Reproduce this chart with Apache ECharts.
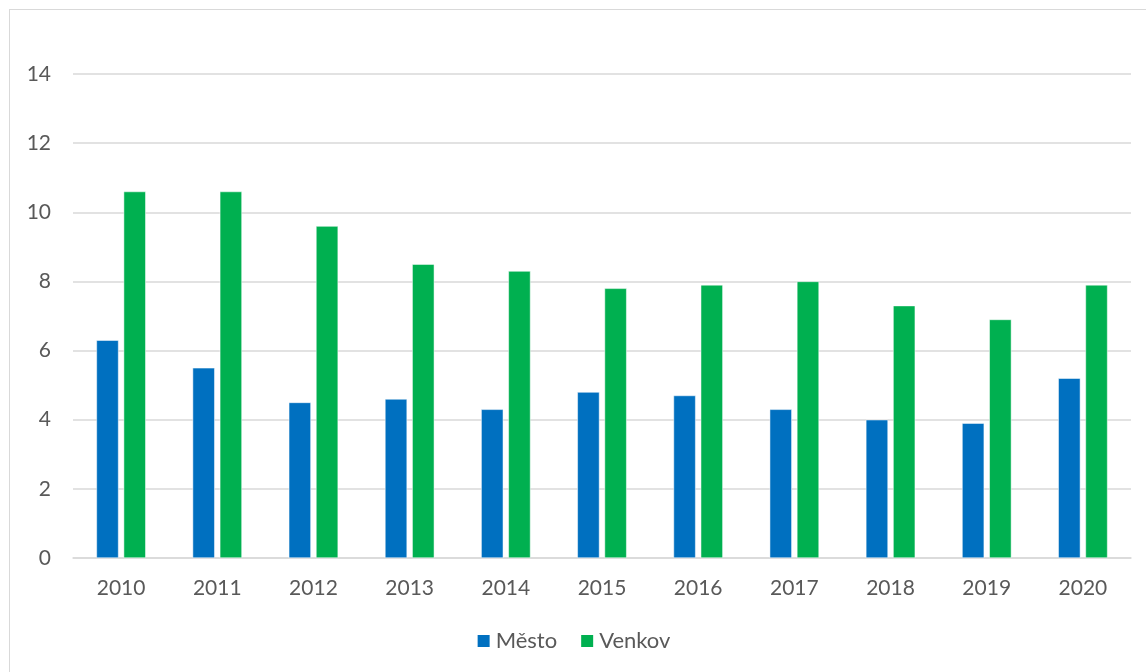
<!DOCTYPE html>
<html><head><meta charset="utf-8">
<script src="https://cdn.jsdelivr.net/npm/echarts@6/dist/echarts.min.js"></script>
<style>
html,body{margin:0;padding:0;background:#fff;overflow:hidden;}
#frame{position:absolute;left:9px;top:9px;width:1160px;height:700px;border:1.5px solid #d9d9d9;box-sizing:border-box;}
#c{position:absolute;left:0;top:0;width:1146px;height:672px;}
</style></head>
<body><div id="frame"></div><div id="c"></div>
<script>
const categories = ['2010','2011','2012','2013','2014','2015','2016','2017','2018','2019','2020'];
const mesto = [6.3,5.5,4.5,4.6,4.3,4.8,4.7,4.3,4.0,3.9,5.2];
const venkov = [10.6,10.6,9.6,8.5,8.3,7.8,7.9,8.0,7.3,6.9,7.9];
const yTicks = {min:0,max:14,interval:2};

const chart = echarts.init(document.getElementById('c'));
const font = 'Lato, "Open Sans", sans-serif';
chart.setOption({
  animation:false,
  textStyle:{fontFamily:font},
  grid:{left:73,right:15,top:74,bottom:114},
  legend:{
    bottom:15,left:'center',itemWidth:14,itemHeight:14,itemGap:22,
    icon:'rect',
    textStyle:{fontSize:22,color:'#595959',fontFamily:font},
    data:['Město','Venkov']
  },
  xAxis:{
    type:'category',data:categories,
    axisLine:{lineStyle:{color:'#d9d9d9',width:1.5}},
    axisTick:{show:false},
    axisLabel:{fontSize:21,color:'#595959',margin:20,fontFamily:font}
  },
  yAxis:{
    type:'value',min:yTicks.min,max:yTicks.max,interval:yTicks.interval,
    axisLine:{show:false},axisTick:{show:false},
    splitLine:{lineStyle:{color:'#d9d9d9',width:1.5}},
    axisLabel:{fontSize:21,color:'#595959',margin:22,fontFamily:font}
  },
  series:[
    {name:'Město',type:'bar',data:mesto,barWidth:'23%',barGap:'23%',
     itemStyle:{color:'#0070C0',borderColor:'#ffffff',borderWidth:0.5}},
    {name:'Venkov',type:'bar',data:venkov,barWidth:'23%',
     itemStyle:{color:'#00B050',borderColor:'#ffffff',borderWidth:0.5}}
  ]
});
</script></body></html>
